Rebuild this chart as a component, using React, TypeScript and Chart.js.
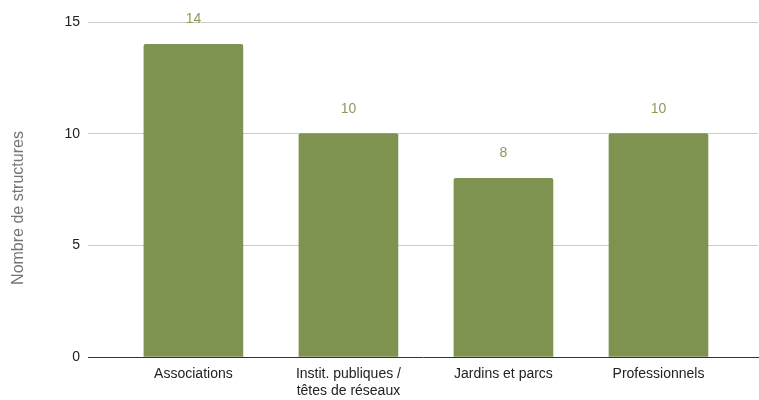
import React, { useEffect, useRef } from "react";
import { Chart, registerables } from "chart.js";

Chart.register(...registerables);

const categories: string[][] = [
  ["Associations"],
  ["Instit. publiques /", "têtes de réseaux"],
  ["Jardins et parcs"],
  ["Professionnels"],
];
const values: number[] = [14, 10, 8, 10];
const yTicks: number[] = [0, 5, 10, 15];
const yTitle = "Nombre de structures";

const FONT = "'Liberation Sans', Arial, sans-serif";

const valueLabels = {
  id: "valueLabels",
  afterDatasetsDraw(chart: any) {
    const ctx = chart.ctx;
    const meta = chart.getDatasetMeta(0);
    ctx.save();
    ctx.fillStyle = "#8a9d5a";
    ctx.font = "14px " + FONT;
    ctx.textAlign = "center";
    ctx.textBaseline = "middle";
    meta.data.forEach((bar: any, i: number) => {
      ctx.fillText(String(values[i]), bar.x, bar.y - 25);
    });
    // y axis title
    ctx.fillStyle = "#757575";
    ctx.font = "16px " + FONT;
    ctx.translate(19, 208);
    ctx.rotate(-Math.PI / 2);
    ctx.fillText(yTitle, 0, 0);
    ctx.restore();
  },
};

export default function App() {
  const ref = useRef<HTMLCanvasElement>(null);
  useEffect(() => {
    if (!ref.current) return;
    const chart = new Chart(ref.current, {
      type: "bar",
      data: {
        datasets: [
          {
            data: values.map((v, i) => ({ x: i, y: v })),
            backgroundColor: "#7f9350",
            barThickness: 99,
            borderRadius: 2,
            borderSkipped: "bottom",
          },
        ],
      },
      options: {
        animation: false,
        responsive: true,
        maintainAspectRatio: false,
        layout: { padding: { top: 22, right: 1, left: 0, bottom: 0 } },
        plugins: { legend: { display: false }, tooltip: { enabled: false } },
        scales: {
          x: {
            type: "linear",
            offset: false,
            min: -0.68,
            max: 3.642,
            afterBuildTicks: (scale: any) => {
              scale.ticks = categories.map((_, i) => ({ value: i }));
            },
            afterFit: (scale: any) => {
              scale.height = 43;
            },
            grid: { display: false, drawTicks: false, offset: false },
            border: { display: true, color: "#333333", width: 1 },
            ticks: {
              autoSkip: false,
              maxRotation: 0,
              padding: 9,
              color: "#222222",
              font: { family: FONT, size: 14, lineHeight: 1.2 },
              callback: (v: any) => categories[Number(v)] ?? "",
            },
          },
          y: {
            min: 0,
            max: 15,
            afterBuildTicks: (scale: any) => {
              scale.ticks = yTicks.map((v) => ({ value: v }));
            },
            afterFit: (scale: any) => {
              scale.width = 88;
            },
            grid: {
              color: (c: any) => (c.tick && c.tick.value === 0 ? "rgba(0,0,0,0)" : "#cccccc"),
              drawTicks: false,
            },
            border: { display: false },
            ticks: {
              padding: 8,
              color: "#222222",
              font: { family: FONT, size: 14 },
            },
          },
        },
      },
      plugins: [valueLabels],
    });
    return () => chart.destroy();
  }, []);
  return (
    <div style={{ position: "fixed", left: 0, top: 0, width: 759, height: 400, background: "#fff" }}>
      <canvas ref={ref} />
    </div>
  );
}
